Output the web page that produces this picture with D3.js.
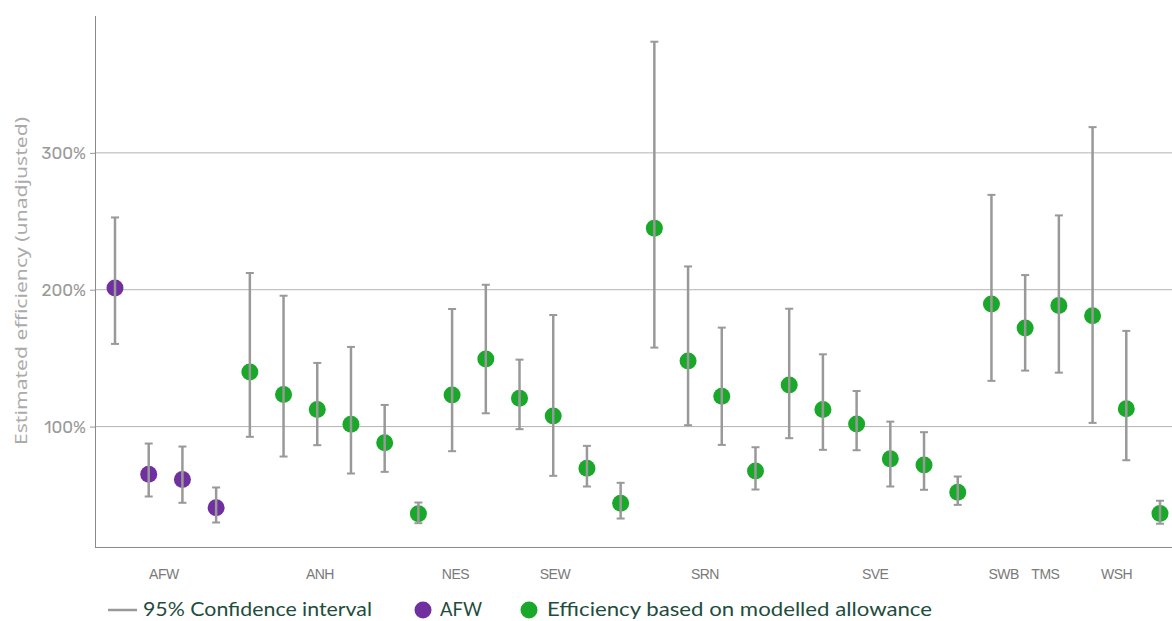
<!DOCTYPE html>
<html>
<head>
<meta charset="utf-8">
<script src="https://cdn.jsdelivr.net/npm/d3@7"></script>
<style>
  html, body { margin: 0; padding: 0; background: #fff; }
  svg { display: block; }
</style>
</head>
<body>
<svg id="chart" width="1172" height="621"></svg>
<script>
// ---- data ----
const estimates = [201.2, 65.2, 61.3, 40.6, 139.9, 123.4, 112.4, 101.7, 88.1, 36.3,
  123.1, 149.4, 120.7, 107.8, 69.6, 44.0, 245.0, 147.9, 122.1, 67.6,
  130.4, 112.4, 101.9, 76.4, 72.0, 52.0, 189.5, 172.0, 188.5, 181.0, 113.1, 36.5];
const upperCI = [252.8, 87.6, 85.4, 55.5, 212.2, 195.6, 146.5, 158.2, 115.8, 44.5,
  185.9, 203.6, 148.9, 181.5, 85.9, 58.9, 381.2, 217.0, 172.3, 84.9,
  186.1, 152.8, 126.0, 103.6, 95.9, 63.5, 269.3, 210.7, 254.3, 318.8, 169.9, 45.8];
const lowerCI = [160.4, 48.9, 44.3, 29.9, 92.5, 78.1, 86.4, 65.7, 66.9, 29.4,
  82.0, 109.7, 98.1, 64.0, 56.2, 32.8, 157.7, 101.0, 86.6, 54.0,
  91.5, 83.0, 82.7, 56.2, 53.8, 42.8, 133.4, 140.9, 139.4, 102.7, 75.4, 29.0];
const series = ["AFW", "AFW", "AFW", "AFW", "Model", "Model", "Model", "Model", "Model", "Model",
  "Model", "Model", "Model", "Model", "Model", "Model", "Model", "Model", "Model", "Model",
  "Model", "Model", "Model", "Model", "Model", "Model", "Model", "Model", "Model", "Model", "Model", "Model"];
const companyLabels = ["AFW", "ANH", "NES", "SEW", "SRN", "SVE", "SWB", "TMS", "WSH"];
const companyLabelAt = [1.45, 6.08, 10.1, 13.05, 17.5, 22.55, 26.36, 27.6, 29.71];
const yTicks = [100, 200, 300];
const legendLabels = ["95% Confidence interval", "AFW", "Efficiency based on modelled allowance"];

// ---- layout ----
const mLeft = 95, mTop = 16, mBottom = 547, mRight = 1172;
const colors = { AFW: "#7030a0", Model: "#1aa82a" };
const svg = d3.select("#chart");

const idx = d3.range(estimates.length);
const x = d3.scaleLinear().domain([0, estimates.length - 1]).range([115, 1160]);
const y = d3.scaleLinear().domain([12, 400]).range([mBottom, mTop]);

// gridlines
svg.append("g").selectAll("line").data(yTicks).join("line")
  .attr("x1", mLeft).attr("x2", mRight)
  .attr("y1", d => y(d)).attr("y2", d => y(d))
  .attr("stroke", "#b4b4b4").attr("stroke-width", 1);

// y axis
const yAxis = d3.axisLeft(y).tickValues(yTicks).tickFormat(d => d + "%").tickSize(5).tickPadding(4);
const ya = svg.append("g").attr("transform", `translate(${mLeft},0)`).call(yAxis);
ya.select(".domain").remove();
ya.selectAll(".tick line").attr("stroke", "#999");
ya.selectAll(".tick text").attr("fill", "#9a9a9a")
  .style("font-family", "Rubik, 'Noto Sans', sans-serif").style("font-size", "17px");

svg.append("line").attr("x1", mLeft + 0.5).attr("x2", mLeft + 0.5).attr("y1", mTop).attr("y2", mBottom)
  .attr("stroke", "#8a8a8a").attr("stroke-width", 1);
svg.append("line").attr("x1", mLeft).attr("x2", mRight).attr("y1", mBottom + 0.5).attr("y2", mBottom + 0.5)
  .attr("stroke", "#8a8a8a").attr("stroke-width", 1);

// y title
svg.append("text")
  .attr("transform", `translate(27,${281}) rotate(-90)`)
  .attr("text-anchor", "middle")
  .attr("fill", "#ababab")
  .style("font-family", "'Noto Sans', sans-serif").style("font-size", "17px")
  .attr("textLength", 328).attr("lengthAdjust", "spacingAndGlyphs")
  .text("Estimated efficiency (unadjusted)");

// company labels
svg.append("g").selectAll("text").data(companyLabels).join("text")
  .attr("x", (d, i) => x(companyLabelAt[i]))
  .attr("y", 579)
  .attr("text-anchor", "middle")
  .attr("fill", "#7a7a7a")
  .style("font-family", "'Liberation Sans', Arial, sans-serif").style("font-size", "14px")
  .style("letter-spacing", "-0.5px")
  .text(d => d);

// points
svg.append("g").selectAll("circle").data(idx).join("circle")
  .attr("cx", i => x(i)).attr("cy", i => y(estimates[i])).attr("r", 8.5)
  .attr("fill", i => colors[series[i]]);

// error bars (drawn on top)
const eb = svg.append("g").attr("stroke", "#999").attr("fill", "none");
eb.selectAll("line.v").data(idx).join("line").attr("class", "v")
  .attr("x1", i => x(i)).attr("x2", i => x(i))
  .attr("y1", i => y(upperCI[i])).attr("y2", i => y(lowerCI[i]))
  .attr("stroke-width", 2.5);
eb.selectAll("line.u").data(idx).join("line").attr("class", "u")
  .attr("x1", i => x(i) - 4).attr("x2", i => x(i) + 4)
  .attr("y1", i => y(upperCI[i])).attr("y2", i => y(upperCI[i]))
  .attr("stroke-width", 2);
eb.selectAll("line.l").data(idx).join("line").attr("class", "l")
  .attr("x1", i => x(i) - 4).attr("x2", i => x(i) + 4)
  .attr("y1", i => y(lowerCI[i])).attr("y2", i => y(lowerCI[i]))
  .attr("stroke-width", 2);

// legend
const lg = svg.append("g").style("font-family", "Lato, 'Noto Sans', sans-serif").style("font-size", "19px");
const ly = 610;
lg.append("line").attr("x1", 108).attr("x2", 137).attr("y1", ly).attr("y2", ly)
  .attr("stroke", "#999").attr("stroke-width", 2.5);
lg.append("text").attr("x", 143).attr("y", ly + 6).attr("fill", "#1e4d3d")
  .attr("textLength", 229).attr("lengthAdjust", "spacingAndGlyphs").text(legendLabels[0]);
lg.append("circle").attr("cx", 423).attr("cy", ly).attr("r", 8.5).attr("fill", colors.AFW);
lg.append("text").attr("x", 440).attr("y", ly + 6).attr("fill", "#1e4d3d")
  .attr("textLength", 42).attr("lengthAdjust", "spacingAndGlyphs").text(legendLabels[1]);
lg.append("circle").attr("cx", 529).attr("cy", ly).attr("r", 8.5).attr("fill", colors.Model);
lg.append("text").attr("x", 547).attr("y", ly + 6).attr("fill", "#1e4d3d")
  .attr("textLength", 385).attr("lengthAdjust", "spacingAndGlyphs").text(legendLabels[2]);
</script>
</body>
</html>
